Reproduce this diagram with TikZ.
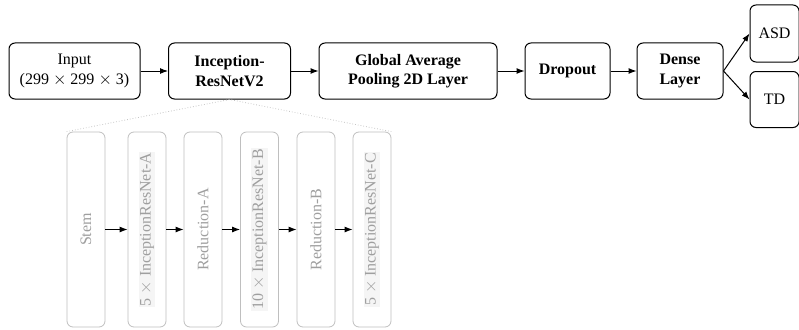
\documentclass[tikz,border=0pt]{standalone}
\usepackage{fontspec}
\setmainfont{Liberation Serif}
\newfontfamily\boldserif{Liberation Serif Bold}
\usetikzlibrary{arrows.meta}
\newcommand{\shade}[1]{{\setlength{\fboxsep}{1pt}\colorbox{gray!8}{#1}}}
\begin{document}
\begin{tikzpicture}[x=1pt, y=-1pt,
                    every node/.style={font=\fontsize{16}{19.5}\selectfont},
                    layer/.style={draw, rounded corners=6pt, line width=1pt, align=center,
                                  minimum height=56pt, inner sep=0pt},
                    bold/.style={font=\boldserif\fontsize{16}{19.5}\selectfont},
                    block/.style={draw=gray!50, rounded corners=6pt, thick, text=gray!75,
                                  minimum width=38pt, minimum height=195pt, inner sep=0pt},
                    link/.style={-{Latex[length=8pt,width=6pt]}, line width=1pt}]
  \clip (0,0) rectangle (799,329);
  % main pipeline
  \node[layer, minimum width=131pt] (input) at (74.5,71) {Input\\(299 $\times$ 299 $\times$ 3)};
  \node[layer, bold, minimum width=122pt] (irv2) at (229.5,71) {Inception-\\ResNetV2};
  \node[layer, bold, minimum width=178pt] (gap) at (408,71) {Global Average\\Pooling 2D Layer};
  \node[layer, bold, minimum width=85pt] (drop) at (567.5,71) {Dropout};
  \node[layer, bold, minimum width=86pt] (dense) at (680,71) {Dense\\Layer};
  \node[layer, minimum width=49pt, minimum height=57pt] (asd) at (774.5,33.5) {ASD};
  \node[layer, minimum width=49pt] (td) at (774.5,99.5) {TD};
  \draw[link] (input) -- (irv2);
  \draw[link] (irv2) -- (gap);
  \draw[link] (gap) -- (drop);
  \draw[link] (drop) -- (dense);
  \draw[link] (dense.east) -- (asd.west);
  \draw[link] (dense.east) -- (td.west);
  % inside Inception-ResNetV2
  \node[block] (stem) at (86,229.5) {\rotatebox{90}{Stem}};
  \node[block] (ira) at (147,229.5) {\rotatebox{90}{\shade{5 $\times$ InceptionResNet-A}}};
  \node[block] (reda) at (203,229.5) {\rotatebox{90}{Reduction-A}};
  \node[block] (irb) at (259.5,229.5) {\rotatebox{90}{\shade{10 $\times$ InceptionResNet-B}}};
  \node[block] (redb) at (316,229.5) {\rotatebox{90}{Reduction-B}};
  \node[block] (irc) at (372,229.5) {\rotatebox{90}{\shade{5 $\times$ InceptionResNet-C}}};
  \draw[link] (stem) -- (ira);
  \draw[link] (ira) -- (reda);
  \draw[link] (reda) -- (irb);
  \draw[link] (irb) -- (redb);
  \draw[link] (redb) -- (irc);
  \draw[gray!45, thick, dotted] (stem.north west) -- (irv2.south) -- (irc.north east);
\end{tikzpicture}
\end{document}
